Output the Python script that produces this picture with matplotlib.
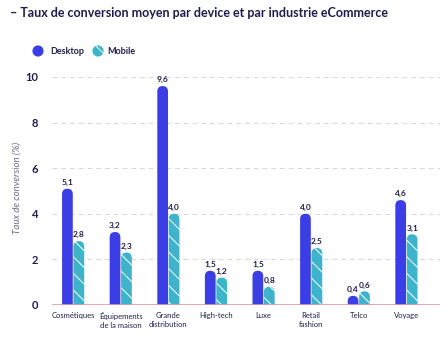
import numpy as np
import matplotlib
matplotlib.use("Agg")
from matplotlib import pyplot as plt
from matplotlib.patches import FancyBboxPatch, Ellipse

categories = ["Cosmétiques", "Équipements\nde la maison", "Grande\ndistribution",
              "High-tech", "Luxe", "Retail\nfashion", "Telco", "Voyage"]
desktop = [5.1, 3.2, 9.6, 1.5, 1.5, 4.0, 0.4, 4.6]
mobile = [2.8, 2.3, 4.0, 1.2, 0.8, 2.5, 0.6, 3.1]
yticks = [0, 2, 4, 6, 8, 10]

navy = "#1f1d4d"
c_desk = "#3a3ee4"
c_mob = "#3db4cc"

plt.rcParams['font.family'] = ['Lato', 'DejaVu Sans']
plt.rcParams['hatch.linewidth'] = 0.7

fig = plt.figure(figsize=(4.46, 3.37), dpi=100)
ax = fig.add_axes([0.117, 0.095, 0.870, 0.697])
ax.set_xlim(-0.44, 7.71)
ax.set_ylim(0, 10.3)

x = np.arange(len(categories))
w = 0.225
off = 0.12

# px -> data units, so the rounded tops stay circular
px_x = (7.71 + 0.44) / (0.870 * 446)
px_y = 10.3 / (0.697 * 337)
aspect = px_y / px_x


def rounded_bars(xs, vals, color, hatch=None):
    bars = ax.bar(xs, vals, w, color="none", edgecolor="none")
    for b, v in zip(bars, vals):
        r = w / 2
        p = FancyBboxPatch((b.get_x() + r, -1), 0.0001, v + 1 - r * aspect,
                           boxstyle="round,pad=%f,rounding_size=%f" % (r, r),
                           mutation_aspect=aspect, facecolor=color,
                           edgecolor="white" if hatch else "none", linewidth=0,
                           hatch=hatch, clip_on=True, zorder=3)
        ax.add_patch(p)
        ax.text(b.get_x() + w / 2, v + 0.12, ("%.1f" % v).replace(".", ","),
                ha="center", va="bottom", fontsize=6, color=navy,
                fontweight="bold", zorder=4)


rounded_bars(x - off, desktop, c_desk)
rounded_bars(x + off, mobile, c_mob, hatch="\\\\")

for y in yticks[1:]:
    ax.axhline(y, color="#d8d8d8", lw=0.7, ls=(0, (5, 4)), zorder=1)
ax.axhline(0, color="#e59aa4", lw=1.2, zorder=5)

for s in ax.spines.values():
    s.set_visible(False)
ax.set_yticks(yticks)
ax.set_yticklabels([str(t) for t in yticks], fontsize=8, color=navy, fontweight="bold")
ax.set_xticks(x)
ax.set_xticklabels(categories, fontsize=5.5, color=navy, linespacing=1.3)
ax.tick_params(length=0, axis="y", pad=10)
ax.tick_params(length=0, axis="x", pad=5)
ax.set_ylabel("Taux de conversion (%)", fontsize=7, color="#6e6e8a",
              style="italic", labelpad=3)

fig.text(0.022, 0.962, "– Taux de conversion moyen par device et par industrie eCommerce",
         fontsize=9, fontweight="bold", color=navy, ha="left", va="center")

# legend
ly = 1 - 51 / 337
d = 0.025
fig.add_artist(Ellipse((38 / 446, ly), d, d * 446 / 337, transform=fig.transFigure,
                       facecolor=c_desk, edgecolor="none"))
fig.add_artist(Ellipse((98 / 446, ly), d, d * 446 / 337, transform=fig.transFigure,
                       facecolor=c_mob, edgecolor="white", linewidth=0, hatch="\\\\"))
fig.text(50 / 446, ly, "Desktop", fontsize=6.5, color=navy, va="center", fontweight="bold")
fig.text(107 / 446, ly, "Mobile", fontsize=6.5, color=navy, va="center", fontweight="bold")

fig.savefig("out.png", dpi=100)
